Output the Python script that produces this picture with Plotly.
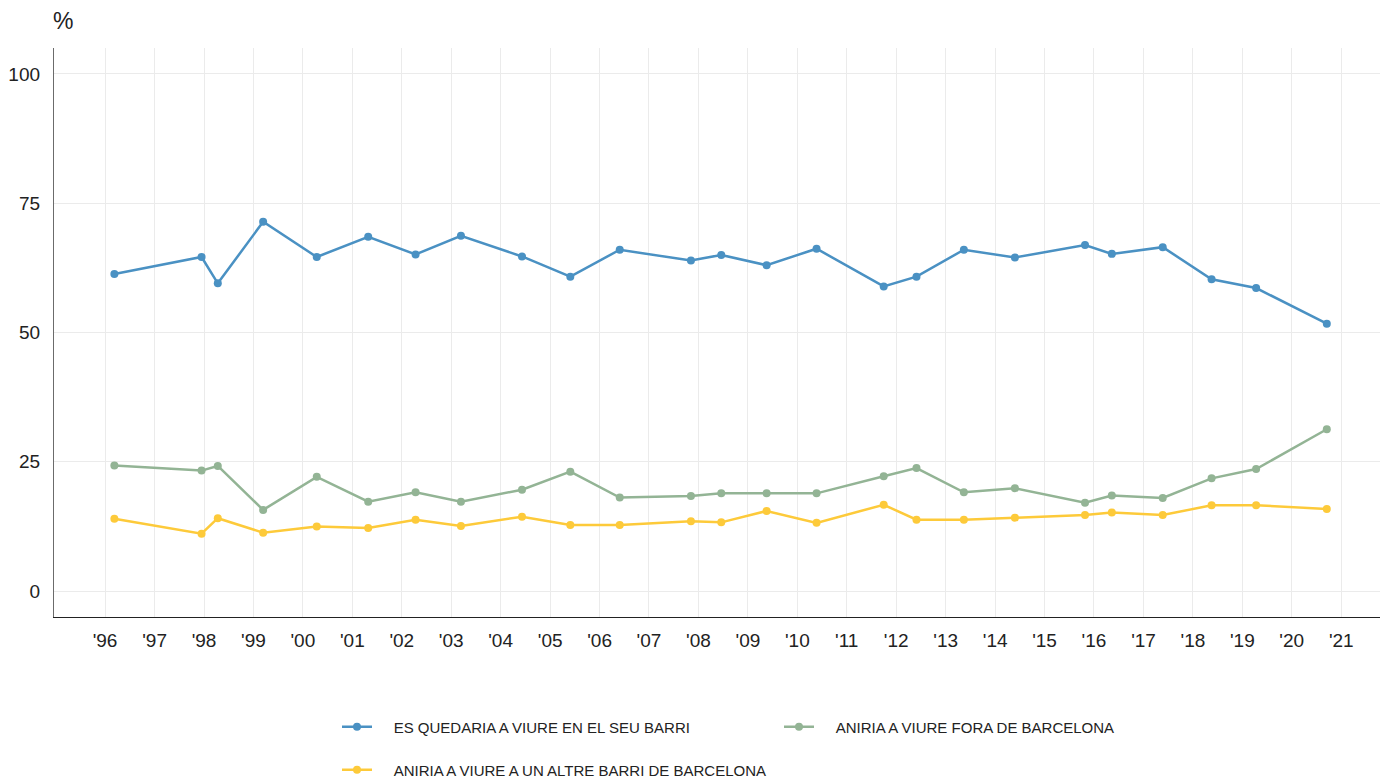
import plotly.graph_objects as go

dates = ["1996-03-10", "1997-12-14", "1998-04-13", "1999-03-14", "2000-04-13",
         "2001-04-28", "2002-04-13", "2003-03-14", "2004-06-07", "2005-05-30",
         "2006-05-30", "2007-11-07", "2008-06-18", "2009-05-19", "2010-05-23",
         "2011-10-01", "2012-05-30", "2013-05-15", "2014-05-27", "2015-10-27",
         "2016-05-12", "2017-05-23", "2018-05-19", "2019-04-13", "2020-09-16"]

quedaria = [61.3, 64.6, 59.5, 71.4, 64.6, 68.5, 65.1, 68.7, 64.7, 60.8,
            66.0, 63.9, 65.0, 63.0, 66.2, 58.9, 60.8, 66.0, 64.5, 66.9,
            65.2, 66.5, 60.3, 58.6, 51.7]
fora = [24.3, 23.3, 24.2, 15.7, 22.1, 17.3, 19.1, 17.3, 19.6, 23.1,
        18.1, 18.4, 18.9, 18.9, 18.9, 22.2, 23.8, 19.1, 19.9, 17.1,
        18.5, 18.0, 21.8, 23.6, 31.3]
altre = [14.0, 11.1, 14.1, 11.3, 12.5, 12.2, 13.8, 12.6, 14.4, 12.8,
         12.8, 13.5, 13.3, 15.5, 13.2, 16.7, 13.8, 13.8, 14.2, 14.7,
         15.2, 14.7, 16.6, 16.6, 15.9]

names = ["ES QUEDARIA A VIURE EN EL SEU BARRI",
         "ANIRIA A VIURE FORA DE BARCELONA",
         "ANIRIA A VIURE A UN ALTRE BARRI DE BARCELONA"]
colors = ["#4a91c3", "#93b495", "#fdca3a"]

tick_years = list(range(1996, 2022))
tick_vals = [f"{y}-01-01" for y in tick_years]
tick_text = [f"'{str(y)[2:]}" for y in tick_years]
y_ticks = [0, 25, 50, 75, 100]

FONT = "Liberation Sans, Arial, sans-serif"
PAD = "\u00a0" * 4  # gap between legend symbol and its text

W, H = 1380, 778

fig = go.Figure()
for vals, name, col, lg in zip([quedaria, fora, altre], names, colors,
                               ["legend", "legend", "legend2"]):
    fig.add_trace(go.Scatter(
        x=dates, y=vals, name=PAD + name, mode="lines+markers",
        line=dict(color=col, width=2.5),
        marker=dict(color=col, size=8),
        legend=lg,
    ))

fig.update_layout(
    width=W, height=H,
    margin=dict(l=54, r=0, t=48, b=161, autoexpand=False),
    paper_bgcolor="white", plot_bgcolor="white",
    font=dict(family=FONT, color="#222222"),
    xaxis=dict(
        type="date",
        range=["1994-12-20", "2021-10-14"],
        tickvals=tick_vals, ticktext=tick_text,
        tickfont=dict(size=19, color="#222222"),
        showgrid=True, gridcolor="#ebebeb", gridwidth=1,
        showline=True, linecolor="#222222", linewidth=1.3,
        ticks="", ticklabelstandoff=6,
        zeroline=False, automargin=False,
    ),
    yaxis=dict(
        range=[-5, 105],
        tickvals=y_ticks,
        tickfont=dict(size=19, color="#222222"),
        showgrid=True, gridcolor="#ebebeb", gridwidth=1,
        showline=True, linecolor="#6b6b6b", linewidth=1.3,
        ticks="", ticklabelstandoff=9,
        zeroline=False, automargin=False,
    ),
    legend=dict(
        orientation="h", xref="container", yref="container",
        x=337 / W, xanchor="left", y=1 - 727 / H, yanchor="middle",
        font=dict(size=15, color="#222222", family=FONT),
        entrywidth=397, entrywidthmode="pixels",
        bgcolor="rgba(0,0,0,0)",
    ),
    legend2=dict(
        orientation="h", xref="container", yref="container",
        x=337 / W, xanchor="left", y=1 - 770 / H, yanchor="middle",
        font=dict(size=15, color="#222222", family=FONT),
        bgcolor="rgba(0,0,0,0)",
    ),
    annotations=[dict(
        text="%", xref="paper", yref="paper",
        x=-3 / 1326, xanchor="left", y=(617 - 21) / 569, yanchor="middle",
        showarrow=False, font=dict(size=23, color="#222222", family=FONT),
    )],
    showlegend=True,
)

fig.write_html("out.html",
               config={"displayModeBar": False},
               post_script="document.body.style.margin='0';"
                           "document.body.style.overflow='hidden';")
